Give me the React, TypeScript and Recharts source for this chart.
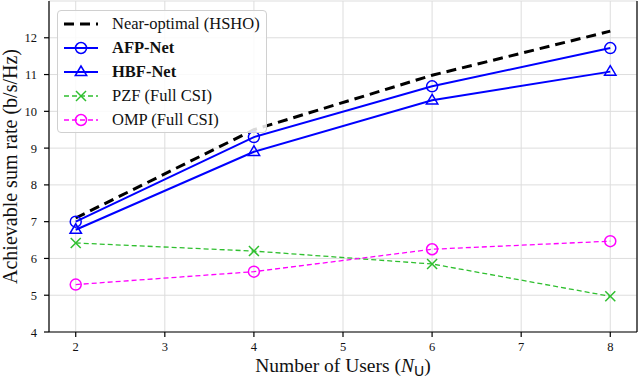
import {
  LineChart,
  Line,
  XAxis,
  YAxis,
  CartesianGrid,
  Label,
} from "recharts";

// Number of users on the x axis
const users = [2, 4, 6, 8];

// Achievable sum rate (b/s/Hz) per method
const hsho = [7.1, 9.5, 10.98, 12.18];
const afpNet = [7.0, 9.3, 10.68, 11.72];
const hbfNet = [6.78, 8.9, 10.3, 11.08];
const pzf = [6.42, 6.2, 5.85, 4.97];
const omp = [5.29, 5.64, 6.25, 6.47];

const xTicks = [2, 3, 4, 5, 6, 7, 8];
const yTicks = [4, 5, 6, 7, 8, 9, 10, 11, 12];

const data = users.map((u, i) => ({
  users: u,
  hsho: hsho[i],
  afp: afpNet[i],
  hbf: hbfNet[i],
  pzf: pzf[i],
  omp: omp[i],
}));

const FONT = '"Liberation Serif", "DejaVu Serif", serif';

type Marker = "none" | "circle" | "triangle" | "x";

const series: {
  key: string;
  name: string;
  color: string;
  width: number;
  dash?: string;
  marker: Marker;
  bold?: boolean;
}[] = [
  { key: "hsho", name: "Near-optimal (HSHO)", color: "#000000", width: 3, dash: "10 6", marker: "none" },
  { key: "afp", name: "AFP-Net", color: "#0000ff", width: 2, marker: "circle", bold: true },
  { key: "hbf", name: "HBF-Net", color: "#0000ff", width: 2, marker: "triangle", bold: true },
  { key: "pzf", name: "PZF (Full CSI)", color: "#2fbf2f", width: 1.3, dash: "5 3", marker: "x" },
  { key: "omp", name: "OMP (Full CSI)", color: "#ff00ff", width: 1.3, dash: "5 3", marker: "circle" },
];

function drawMarker(marker: Marker, color: string, cx: number, cy: number, key?: string) {
  if (marker === "circle") {
    return <circle key={key} cx={cx} cy={cy} r={5.5} fill="none" stroke={color} strokeWidth={1.5} />;
  }
  if (marker === "triangle") {
    const r = 6;
    const pts = `${cx},${cy - r} ${cx - r * 0.95},${cy + r * 0.6} ${cx + r * 0.95},${cy + r * 0.6}`;
    return <polygon key={key} points={pts} fill="none" stroke={color} strokeWidth={1.5} />;
  }
  if (marker === "x") {
    const r = 5;
    return (
      <g key={key} stroke={color} strokeWidth={1.5}>
        <line x1={cx - r} y1={cy - r} x2={cx + r} y2={cy + r} />
        <line x1={cx - r} y1={cy + r} x2={cx + r} y2={cy - r} />
      </g>
    );
  }
  return <g key={key} />;
}

const LegendBox = () => (
  <div
    style={{
      position: "absolute",
      left: 57,
      top: 10,
      width: 210,
      height: 123,
      border: "1px solid #d0d0d0",
      borderRadius: 4,
      background: "rgba(255,255,255,0.85)",
      boxSizing: "border-box",
      fontFamily: FONT,
      paddingTop: 1,
    }}
  >
    {series.map((s) => (
      <div key={s.key} style={{ display: "flex", alignItems: "center", height: 24 }}>
        <svg width={50} height={20} style={{ marginLeft: 4, flex: "none" }}>
          <line x1={2} y1={10} x2={36} y2={10} stroke={s.color} strokeWidth={s.width} strokeDasharray={s.dash} />
          {drawMarker(s.marker, s.color, 19, 10)}
        </svg>
        <span style={{ fontSize: 16.5, fontWeight: s.bold ? "bold" : "normal", color: "#111", whiteSpace: "nowrap" }}>
          {s.name}
        </span>
      </div>
    ))}
  </div>
);

const XTick = (p: any) => (
  <text x={p.x} y={p.y} dy={12} textAnchor="middle" fontFamily={FONT} fontSize={12.5} fill="#111">
    {p.payload.value}
  </text>
);

const YTick = (p: any) => (
  <text x={p.x} y={p.y} dx={-5} dy={4.5} textAnchor="end" fontFamily={FONT} fontSize={12.5} fill="#111">
    {p.payload.value}
  </text>
);

const renderXLabel = (props: any) => {
  const vb = props.viewBox || {};
  const cx = vb.x + vb.width / 2;
  return (
    <text x={cx} y={vb.y + 40} textAnchor="middle" fontFamily={FONT} fontSize={19.5} fill="#111">
      Number of Users (<tspan fontStyle="italic">N</tspan>
      <tspan fontSize={14} dy={4} fontFamily="'DejaVu Sans', sans-serif">U</tspan>
      <tspan dy={-4}>)</tspan>
    </text>
  );
};

const renderYLabel = (props: any) => {
  const vb = props.viewBox || {};
  const cy = vb.y + vb.height / 2;
  const x = 17;
  return (
    <text
      x={x}
      y={cy}
      transform={`rotate(-90, ${x}, ${cy})`}
      textAnchor="middle"
      fontFamily={FONT}
      fontSize={20}
      fill="#111"
    >
      Achievable sum rate (b/s/Hz)
    </text>
  );
};

export default function App() {
  return (
    <div style={{ position: "absolute", left: 0, top: 0, width: 640, height: 379, background: "#fff", fontFamily: FONT }}>
      <LineChart
        width={640}
        height={379}
        data={data}
        margin={{ top: 1, right: 0, bottom: 0, left: 0 }}
        style={{ fontFamily: FONT }}
      >
        <CartesianGrid stroke="#dddddd" strokeWidth={1} />
        <XAxis
          dataKey="users"
          type="number"
          domain={[1.7, 8.3]}
          ticks={xTicks}
          height={47}
          stroke="#000"
          strokeWidth={1.2}
          tickLine={{ stroke: "#000" }}
          tickSize={5}
          tick={<XTick />}
          allowDataOverflow
        >
          <Label content={renderXLabel} />
        </XAxis>
        <XAxis xAxisId="top" orientation="top" type="number" domain={[1.7, 8.3]} height={0} tick={false} tickLine={false} stroke="#000" strokeWidth={1.2} />
        <YAxis
          type="number"
          domain={[4, 13]}
          ticks={yTicks}
          width={49}
          stroke="#000"
          strokeWidth={1.2}
          tickLine={{ stroke: "#000" }}
          tickSize={5}
          tick={<YTick />}
          allowDataOverflow
        >
          <Label content={renderYLabel} />
        </YAxis>
        <YAxis yAxisId="right" orientation="right" domain={[4, 13]} width={3} tick={false} tickLine={false} stroke="#000" strokeWidth={1.2} />
        {series.map((s) => (
          <Line
            key={s.key}
            type="linear"
            dataKey={s.key}
            name={s.name}
            stroke={s.color}
            strokeWidth={s.width}
            strokeDasharray={s.dash}
            isAnimationActive={false}
            dot={
              s.marker === "none"
                ? false
                : (p: any) => drawMarker(s.marker, s.color, p.cx, p.cy, `${s.key}-${p.index}`)
            }
            activeDot={false}
          />
        ))}
      </LineChart>
      <LegendBox />
    </div>
  );
}
